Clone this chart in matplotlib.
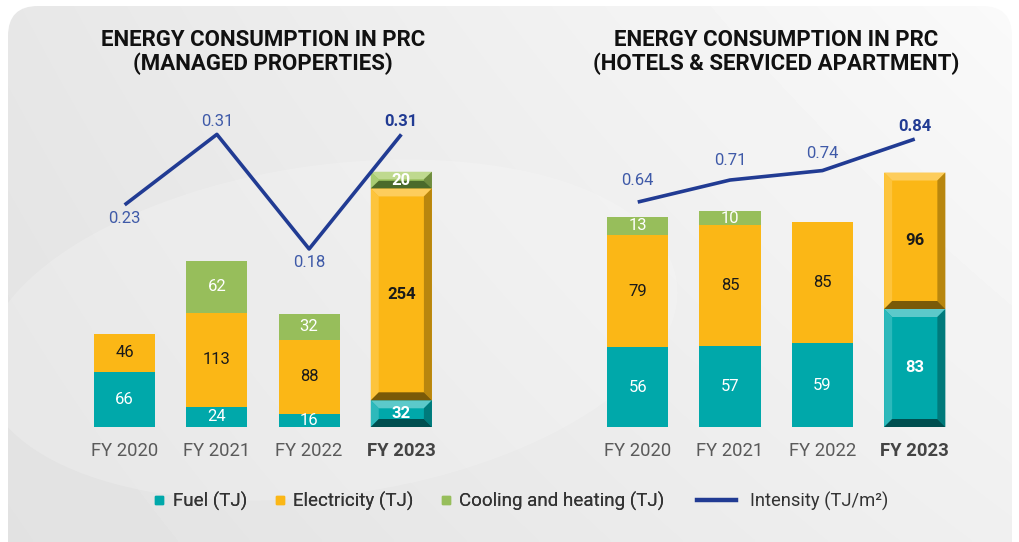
import numpy as np
import matplotlib.pyplot as plt
from matplotlib.patches import FancyBboxPatch, Polygon, Rectangle, Ellipse
from matplotlib.lines import Line2D

# data
years = ['FY 2020', 'FY 2021', 'FY 2022', 'FY 2023']

mp_fuel = [66, 24, 16, 32]
mp_elec = [46, 113, 88, 254]
mp_cool = [0, 62, 32, 20]
mp_intensity = [0.23, 0.31, 0.18, 0.31]

hs_fuel = [56, 57, 59, 83]
hs_elec = [79, 85, 85, 96]
hs_cool = [13, 10, 0, 0]
hs_intensity = [0.64, 0.71, 0.74, 0.84]

TEAL = '#00a8aa'
ORANGE = '#fbb716'
GREEN = '#97be5b'
NAVY = '#213b93'
LBLUE = '#3f5aa8'

plt.rcParams['font.family'] = ['Roboto', 'DejaVu Sans']

fig = plt.figure(figsize=(10.2, 5.42), dpi=100)
fig.patch.set_facecolor('white')

# soft grey card behind everything
bg = fig.add_axes([0, 0, 1, 1], zorder=-10)
bg.set_xlim(0, 1020)
bg.set_ylim(542, 0)
bg.axis('off')
gx, gy = np.meshgrid(np.linspace(0, 1, 300), np.linspace(0, 1, 160))
shade = 0.905 + 0.055 * gx - 0.02 * gy + 0.02 * gx * (1 - gy)
img = bg.imshow(shade, cmap='gray', vmin=0, vmax=1, extent=(0, 1020, 542, 0),
                aspect='auto', interpolation='bilinear')
card = FancyBboxPatch((8, 6), 1004, 600, boxstyle='round,pad=0,rounding_size=30',
                      fc='none', ec='none', transform=bg.transData)
bg.add_patch(card)
img.set_clip_path(card)
swoosh = Ellipse((330, 330), 700, 330, angle=-8, fc='white', ec='none', alpha=0.18)
bg.add_patch(swoosh)
swoosh.set_clip_path(card)


def bevel(ax, x, bottom, height, width, color, light, side_l, side_r, dark):
    # bar segment with a raised bevel frame
    ax.add_patch(Rectangle((x - width / 2, bottom), width, height, fc=color, ec='none', zorder=3))
    bb = ax.get_window_extent()
    x0, x1 = ax.get_xlim()
    y0, y1 = ax.get_ylim()
    dx = 8 * (x1 - x0) / bb.width
    dy = min(8 * (y1 - y0) / bb.height, height / 2.2)
    l, r = x - width / 2, x + width / 2
    b, t = bottom, bottom + height
    faces = [
        ([(l, t), (r, t), (r - dx, t - dy), (l + dx, t - dy)], light),
        ([(l, b), (l + dx, b + dy), (l + dx, t - dy), (l, t)], side_l),
        ([(r, b), (r, t), (r - dx, t - dy), (r - dx, b + dy)], side_r),
        ([(l, b), (r, b), (r - dx, b + dy), (l + dx, b + dy)], dark),
    ]
    for pts, c in faces:
        ax.add_patch(Polygon(pts, closed=True, fc=c, ec='none', zorder=3.5))


bevel_cols = {
    TEAL: ('#5cc9ca', '#2db9bb', '#007a7b', '#004f50'),
    ORANGE: ('#fdcd5c', '#fdc43c', '#b8860e', '#7a5a08'),
    GREEN: ('#bfd98f', '#a9cc72', '#6f8c3f', '#4b6a2b'),
}


def panel(rect, title, fuel, elec, cool, intensity, ymax, iylim, offsets):
    ax = fig.add_axes(rect)
    ax.set_xlim(-0.75, 3.75)
    ax.set_ylim(0, ymax)
    ax.patch.set_alpha(0)
    for s in ax.spines.values():
        s.set_visible(False)
    ax.set_yticks([])
    x = np.arange(len(years))
    w = 0.663
    for i in x:
        segs = [(fuel[i], TEAL, 'white'), (elec[i], ORANGE, '#1a1a1a'), (cool[i], GREEN, 'white')]
        bottom = 0
        last = i == len(years) - 1
        for val, col, tcol in segs:
            if val == 0:
                continue
            if last:
                bevel(ax, i, bottom, val, w, col, *bevel_cols[col])
            else:
                ax.bar(i, val, w, bottom=bottom, color=col, zorder=3)
            ax.text(i, bottom + val / 2, str(val), ha='center', va='center',
                    color=tcol, fontsize=12, fontweight='bold' if last else 'normal',
                    zorder=5)
            bottom += val
    ax.set_xticks(x)
    ax.set_xticklabels(years, fontsize=13.3, color='#5a5a5a')
    ax.tick_params(axis='x', length=0, pad=11)
    lab = ax.get_xticklabels()[-1]
    lab.set_fontweight('bold')
    lab.set_color('#444444')

    ax2 = ax.twinx()
    ax2.set_ylim(*iylim)
    ax2.axis('off')
    ax2.plot(x, intensity, color=NAVY, lw=2.6, zorder=6, solid_capstyle='butt')
    for i, v in enumerate(intensity):
        last = i == len(intensity) - 1
        ax2.annotate(f'{v:.2f}', (x[i], v), xytext=(0, offsets[i]), textcoords='offset points',
                     ha='center', va='center', fontsize=12,
                     color=NAVY if last else LBLUE,
                     fontweight='bold' if last else 'normal')
    cx = rect[0] + rect[2] / 2
    fig.text(cx, 1 - 52 / 542, title, ha='center', va='center', fontsize=16,
             fontweight='bold', color='#111111', linespacing=1.08)
    return ax


bot = (542 - 427) / 542
hgt = 327 / 542
panel([55.5 / 1020, bot, 415 / 1020, hgt],
      'ENERGY CONSUMPTION IN PRC\n(MANAGED PROPERTIES)',
      mp_fuel, mp_elec, mp_cool, mp_intensity, 392, (-0.022, 0.349),
      [-9.5, 9, -9.5, 9])
panel([568.5 / 1020, bot, 415.5 / 1020, hgt],
      'ENERGY CONSUMPTION IN PRC\n(HOTELS & SERVICED APARTMENT)',
      hs_fuel, hs_elec, hs_cool, hs_intensity, 230, (-0.074, 0.964),
      [15.5, 14, 12.5, 9])

# legend: square swatches for the energy types, a long line sample for intensity
swatches = [Line2D([], [], marker='s', ls='none', color=c, markersize=6.2)
            for c in (TEAL, ORANGE, GREEN)]
leg1 = fig.legend(swatches, ['Fuel (TJ)', 'Electricity (TJ)', 'Cooling and heating (TJ)'],
                  loc='center left', bbox_to_anchor=(137 / 1020, 1 - 501 / 542),
                  ncol=3, frameon=False, fontsize=13.5, handlelength=0.6,
                  handletextpad=0.4, columnspacing=1.45, labelcolor='#333333')
fig.add_artist(leg1)
fig.legend([Line2D([], [], color=NAVY, lw=3.2)], ['Intensity (TJ/m²)'],
           loc='center left', bbox_to_anchor=(681 / 1020, 1 - 501 / 542),
           frameon=False, fontsize=13.2, handlelength=2.1, handletextpad=0.75,
           labelcolor='#333333')

fig.savefig('out.png', dpi=100, facecolor=fig.get_facecolor())
